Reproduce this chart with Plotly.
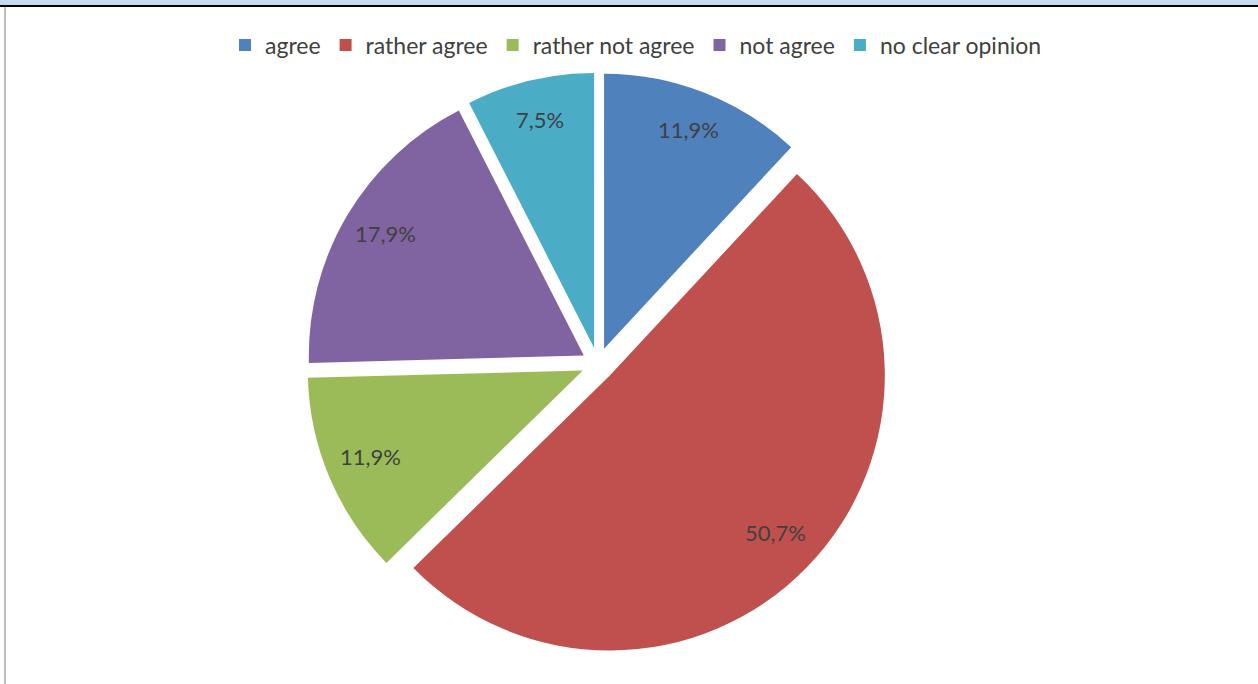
import math
import plotly.graph_objects as go

# Survey answers and their shares (%)
categories = ["agree", "rather agree", "rather not agree", "not agree", "no clear opinion"]
shares = [11.9, 50.7, 11.9, 17.9, 7.5]
colors = ["#4F81BD", "#C0504D", "#9BBB59", "#8064A2", "#4BACC6"]

W, H = 1258, 684
FONT = "Lato, Open Sans, sans-serif"
TEXT_COLOR = "#404040"

PULL = 0.06
LABEL_R = 0.84  # label distance from slice tip, as a fraction of the radius

# pie placement (pixels)
CX, CY = 598, 364
HALF = 291.5
dom_x = [(CX - 300) / W, (CX + 300) / W]
dom_y = [1 - (CY + HALF) / H, 1 - (CY - HALF) / H]

# labels use a decimal comma
labels_txt = [f"{v:.1f}%".replace(".", ",") for v in shares]

fig = go.Figure(
    go.Pie(
        labels=categories,
        values=shares,
        text=labels_txt,
        textinfo="none",
        marker=dict(colors=colors, line=dict(width=0)),
        pull=[PULL] * len(shares),
        sort=False,
        direction="clockwise",
        rotation=0,
        hoverinfo="label+text",
        domain=dict(x=dom_x, y=dom_y),
    )
)

# value labels placed near the outer edge of each slice, along its bisector
r = min((dom_x[1] - dom_x[0]) * W, (dom_y[1] - dom_y[0]) * H) / (2 + 2 * PULL)
total = sum(shares)
annotations = []
cum = 0.0
for v, t in zip(shares, labels_txt):
    mid = (cum + v / 2) / total * 2 * math.pi
    cum += v
    dist = (PULL + LABEL_R) * r
    px = CX + dist * math.sin(mid)
    py = CY - 4 - dist * math.cos(mid)
    annotations.append(dict(
        x=px / W, y=1 - py / H, xref="paper", yref="paper",
        text=t, showarrow=False, xanchor="center", yanchor="middle",
        font=dict(family=FONT, size=22, color=TEXT_COLOR),
    ))

# frame: light blue band and dark rule along the top, grey rule on the left
shapes = [
    dict(type="rect", xref="paper", yref="paper", x0=0, x1=1, y0=1 - 5 / H, y1=1,
         fillcolor="#C6D9F1", line=dict(width=0), layer="above"),
    dict(type="rect", xref="paper", yref="paper", x0=0, x1=1, y0=1 - 7 / H, y1=1 - 5 / H,
         fillcolor="#000000", line=dict(width=0), layer="above"),
    dict(type="rect", xref="paper", yref="paper", x0=4 / W, x1=6 / W, y0=0, y1=1 - 7 / H,
         fillcolor="#BDBDBD", line=dict(width=0), layer="above"),
]

fig.update_layout(
    width=W,
    height=H,
    margin=dict(l=0, r=0, t=0, b=0),
    paper_bgcolor="white",
    plot_bgcolor="white",
    shapes=shapes,
    annotations=annotations,
    showlegend=True,
    legend=dict(
        orientation="h",
        x=636 / W,
        xanchor="center",
        y=1 - 45 / H,
        yanchor="middle",
        font=dict(family=FONT, size=23, color=TEXT_COLOR),
        itemsizing="constant",
        traceorder="normal",
        itemwidth=30,
    ),
)

fig.write_html("out.html")
